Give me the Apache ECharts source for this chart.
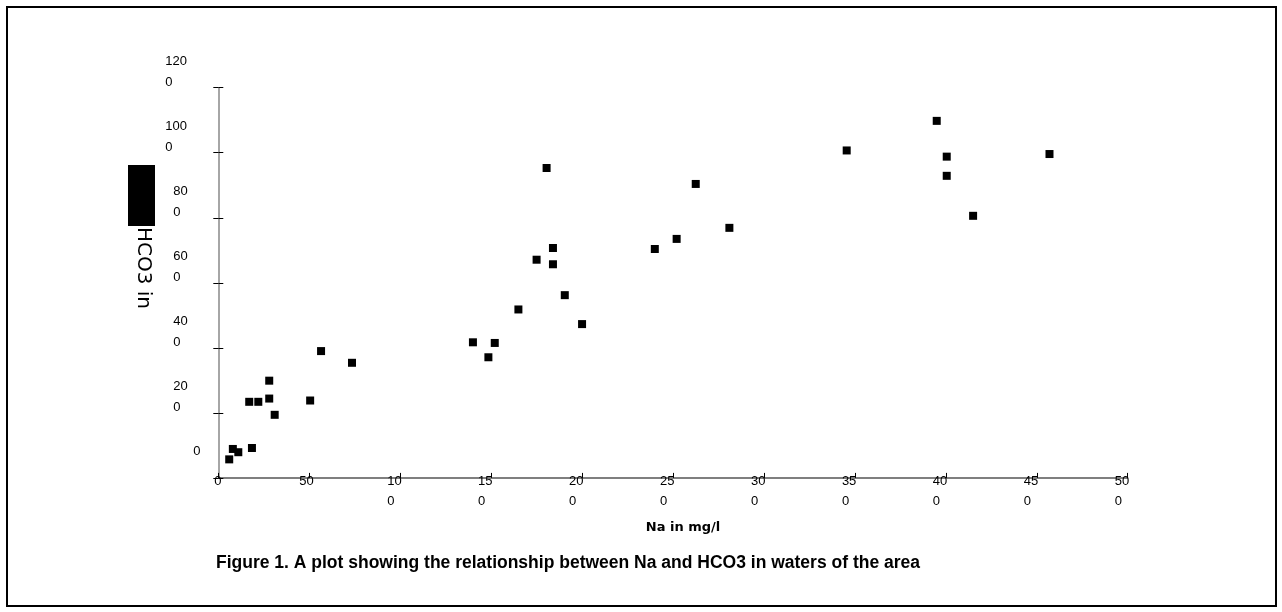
<!DOCTYPE html>
<html>
<head>
<meta charset="utf-8">
<script src="https://cdn.jsdelivr.net/npm/echarts@6/dist/echarts.min.js"></script>
<style>
html,body{margin:0;padding:0;background:#fff;}
#chart{width:1282px;height:612px;}
</style>
</head>
<body>
<div id="chart"></div>
<script>
// Data
const naValues = [6, 8, 11, 18.5, 17, 22, 28, 28, 31, 50.5, 56.5, 73.5, 140, 148.5, 152, 165, 175, 180.5, 184, 184, 190.5, 200, 240, 252, 262.5, 281, 345.5, 395, 400.5, 400.5, 415, 457];
const hco3Values = [57, 89, 79, 92, 234, 234, 299, 244, 194, 238, 390, 354, 417, 371, 415, 518, 671, 953, 707, 657, 562, 473, 704, 735, 904, 769, 1007, 1098, 988, 929, 806, 996];
const xAxisTitle = 'Na in mg/l';
const yAxisTitle = 'HCO3 in';
const caption = 'Figure 1. A plot showing the relationship between Na and HCO3 in waters of the area';

const points = naValues.map((x, i) => [x, hco3Values[i]]);
const narrow = "'Liberation Sans Narrow','Liberation Sans',Arial,sans-serif";
const fs = 13;

const chart = echarts.init(document.getElementById('chart'), null, {renderer: 'canvas'});
const gridLeft = 218.3, gridRight = 154.3, gridTop = 87.7, gridBottom = 134.1;

function tok(extra) {
  return Object.assign({fontFamily: narrow, fontSize: fs, color: '#000'}, extra);
}

chart.setOption({
  animation: false,
  backgroundColor: '#fff',
  grid: {left: gridLeft, right: gridRight, top: gridTop, bottom: gridBottom, containLabel: false},
  xAxis: {
    type: 'value', min: 0, max: 500, interval: 50,
    name: xAxisTitle, nameLocation: 'middle', nameGap: 43,
    nameTextStyle: {fontFamily: 'DejaVu Sans', fontWeight: 'bold', fontSize: 13, color: '#000', padding: [0, 0, 0, 20]},
    axisLine: {show: true, onZero: false, lineStyle: {color: '#555', width: 1.5}},
    axisTick: {show: true, inside: true, length: 5, interval: 0, lineStyle: {color: '#000', width: 1}},
    splitLine: {show: false},
    axisLabel: {
      showMinLabel: true, showMaxLabel: true, hideOverlap: false, interval: 0,
      margin: -6, align: 'center', verticalAlign: 'top',
      color: '#000', fontFamily: narrow, fontSize: fs, lineHeight: 20,
      formatter: function (v) {
        const s = String(v);
        if (v === 0) return '{z|0}';
        if (s.length === 3) return '{t|' + s.slice(0, 2) + '}\n{t|' + s.slice(2) + '}';
        return '{f|' + s + '}';
      },
      rich: {
        t: tok({width: 26, align: 'left', lineHeight: 20}),
        f: tok({width: 20, align: 'left', lineHeight: 20}),
        z: tok({width: 8, align: 'left', lineHeight: 20})
      }
    }
  },
  yAxis: [{
    type: 'value', min: 0, max: 1200, interval: 200, position: 'left',
    axisLine: {show: true, onZero: false, lineStyle: {color: '#888', width: 1.5}},
    axisTick: {show: true, inside: false, length: 5, interval: 0, lineStyle: {color: '#000', width: 1}},
    splitLine: {show: false},
    axisLabel: {
      showMinLabel: true, showMaxLabel: true, hideOverlap: false, interval: 0,
      margin: 53, align: 'left', verticalAlign: 'bottom',
      color: '#000', fontFamily: narrow, fontSize: fs,
      formatter: function (v) {
        const s = String(v);
        if (v === 0) return '{z1|0}\n{z2| }';
        const head = s.slice(0, -1), tail = s.slice(-1);
        const st = head.length >= 3 ? 'b' : 'c';
        return '{' + st + '1|' + head + '}\n{' + st + '2|' + tail + '}';
      },
      rich: {
        b1: tok({lineHeight: 32}),
        b2: tok({lineHeight: 10}),
        c1: tok({lineHeight: 32, padding: [0, 0, 0, 8]}),
        c2: tok({lineHeight: 10, padding: [0, 0, 0, 8]}),
        z1: tok({lineHeight: 32, padding: [0, 0, 0, 28]}),
        z2: tok({lineHeight: 10, padding: [0, 0, 0, 28]})
      }
    }
  }, {
    type: 'value', min: 0, max: 1200, interval: 200, position: 'left',
    axisLine: {show: false},
    axisTick: {show: true, inside: true, length: 5, interval: 0, lineStyle: {color: '#000', width: 1}},
    axisLabel: {show: false},
    splitLine: {show: false}
  }],
  series: [{
    type: 'scatter', yAxisIndex: 0,
    symbol: 'rect', symbolSize: 8,
    itemStyle: {color: '#000', opacity: 1},
    data: points
  }],
  graphic: [
    {type: 'rect', shape: {x: 7, y: 7, width: 1269, height: 599}, style: {fill: 'none', stroke: '#000', lineWidth: 2}, silent: true},
    {type: 'rect', shape: {x: 128, y: 165, width: 27, height: 61}, style: {fill: '#000'}, silent: true},
    {type: 'text', x: 143, y: 268, rotation: -Math.PI / 2,
     style: {text: yAxisTitle, fontFamily: 'DejaVu Sans', fontSize: 20, fill: '#000', textAlign: 'center', textVerticalAlign: 'middle'}},
    {type: 'text', x: 568, y: 563,
     style: {text: caption, fontFamily: "'Liberation Sans', Arial, sans-serif", fontWeight: 'bold', fontSize: 17.5, fill: '#000', textAlign: 'center', textVerticalAlign: 'middle'}}
  ]
});
</script>
</body>
</html>
